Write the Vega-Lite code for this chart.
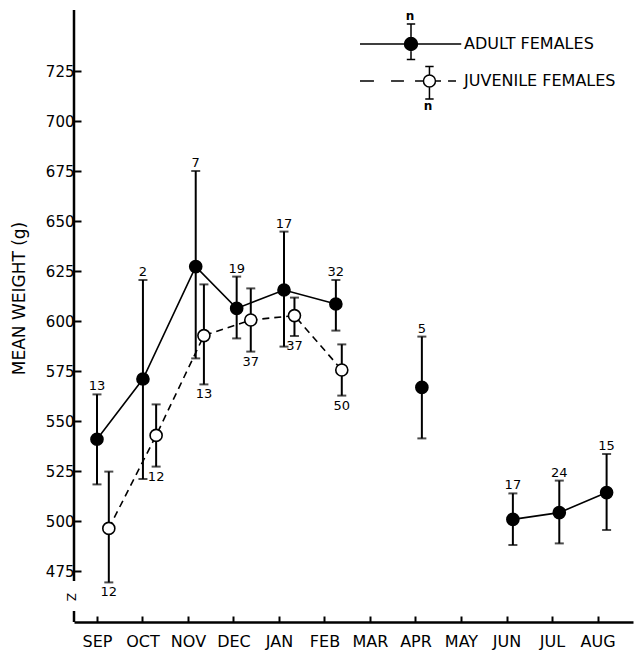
{
  "$schema": "https://vega.github.io/schema/vega-lite/v6.json",
  "width": 559,
  "height": 612,
  "autosize": {"type": "none"},
  "padding": {"left": 74, "top": 10, "right": 1, "bottom": 28},
  "config": {"font": "DejaVu Sans", "view": {"stroke": null}, "axis": {"grid": false}},
  "data": {
    "values": [
      {"series": "ADULT FEMALES", "grp": "A1", "month": "SEP", "x": 0.0, "mean": 540.9, "lo": 518.3, "hi": 563.3, "n": "13"},
      {"series": "ADULT FEMALES", "grp": "A1", "month": "OCT", "x": 1.01, "mean": 571.0, "lo": 521.0, "hi": 620.5, "n": "2"},
      {"series": "ADULT FEMALES", "grp": "A1", "month": "NOV", "x": 2.17, "mean": 627.2, "lo": 581.3, "hi": 675.0, "n": "7"},
      {"series": "ADULT FEMALES", "grp": "A1", "month": "DEC", "x": 3.07, "mean": 606.3, "lo": 591.3, "hi": 622.2, "n": "19"},
      {"series": "ADULT FEMALES", "grp": "A1", "month": "JAN", "x": 4.11, "mean": 615.5, "lo": 587.2, "hi": 644.7, "n": "17"},
      {"series": "ADULT FEMALES", "grp": "A1", "month": "FEB", "x": 5.25, "mean": 608.5, "lo": 595.2, "hi": 620.5, "n": "32"},
      {"series": "ADULT FEMALES", "grp": "A2", "month": "APR", "x": 7.14, "mean": 566.8, "lo": 541.3, "hi": 592.2, "n": "5"},
      {"series": "ADULT FEMALES", "grp": "A3", "month": "JUN", "x": 9.14, "mean": 500.8, "lo": 488.0, "hi": 513.8, "n": "17"},
      {"series": "ADULT FEMALES", "grp": "A3", "month": "JUL", "x": 10.16, "mean": 504.2, "lo": 488.8, "hi": 520.2, "n": "24"},
      {"series": "ADULT FEMALES", "grp": "A3", "month": "AUG", "x": 11.2, "mean": 514.2, "lo": 495.5, "hi": 533.5, "n": "15"},
      {"series": "JUVENILE FEMALES", "grp": "J1", "month": "SEP", "x": 0.26, "mean": 496.3, "lo": 469.3, "hi": 524.7, "n": "12"},
      {"series": "JUVENILE FEMALES", "grp": "J1", "month": "OCT", "x": 1.3, "mean": 542.8, "lo": 527.2, "hi": 558.3, "n": "12"},
      {"series": "JUVENILE FEMALES", "grp": "J1", "month": "NOV", "x": 2.35, "mean": 592.7, "lo": 568.3, "hi": 618.3, "n": "13"},
      {"series": "JUVENILE FEMALES", "grp": "J1", "month": "DEC", "x": 3.38, "mean": 600.5, "lo": 584.7, "hi": 616.3, "n": "37"},
      {"series": "JUVENILE FEMALES", "grp": "J1", "month": "JAN", "x": 4.34, "mean": 602.7, "lo": 592.5, "hi": 611.7, "n": "37"},
      {"series": "JUVENILE FEMALES", "grp": "J1", "month": "FEB", "x": 5.38, "mean": 575.5, "lo": 562.7, "hi": 588.3, "n": "50"}
    ]
  },
  "layer": [
    {
      "transform": [{"filter": "datum.series === 'ADULT FEMALES'"}],
      "mark": {"type": "line", "strokeWidth": 1.6, "color": "black"},
      "encoding": {
        "x": {
          "field": "x",
          "type": "quantitative",
          "scale": {"domain": [-0.505, 11.78], "nice": false, "zero": false},
          "axis": {
            "title": null,
            "values": [0, 1, 2, 3, 4, 5, 6, 7, 8, 9, 10, 11],
            "labelExpr": "['SEP','OCT','NOV','DEC','JAN','FEB','MAR','APR','MAY','JUN','JUL','AUG'][datum.value]",
            "domainColor": "black",
            "domainWidth": 2.5,
            "tickSize": -6,
            "tickWidth": 2,
            "tickColor": "black",
            "labelFontSize": 16,
            "labelColor": "black",
            "labelPadding": 17,
            "labelOverlap": false,
            "labelFlush": false
          }
        },
        "y": {
          "field": "mean",
          "type": "quantitative",
          "scale": {"domain": [449.5, 755.5], "nice": false, "zero": false},
          "axis": {
            "title": "MEAN WEIGHT (g)",
            "domain": false,
            "values": [475, 500, 525, 550, 575, 600, 625, 650, 675, 700, 725],
            "tickSize": -7,
            "tickWidth": 2,
            "tickColor": "black",
            "labelFontSize": 15,
            "labelColor": "black",
            "labelPadding": 7,
            "titleFontSize": 17,
            "titleFontWeight": "normal",
            "titleColor": "black",
            "titleX": -55,
            "titleY": 288,
            "titleBaseline": "middle",
            "titleAlign": "center"
          }
        },
        "detail": {"field": "grp"}
      }
    },
    {
      "transform": [{"filter": "datum.series === 'JUVENILE FEMALES'"}],
      "mark": {"type": "line", "strokeWidth": 1.6, "color": "black", "strokeDash": [7, 5]},
      "encoding": {
        "x": {"field": "x", "type": "quantitative"},
        "y": {"field": "mean", "type": "quantitative"}
      }
    },
    {
      "mark": {"type": "rule", "strokeWidth": 2, "color": "black"},
      "encoding": {
        "x": {"field": "x", "type": "quantitative"},
        "y": {"field": "lo", "type": "quantitative"},
        "y2": {"field": "hi"}
      }
    },
    {
      "mark": {"type": "tick", "orient": "horizontal", "size": 9, "thickness": 2, "color": "black"},
      "encoding": {
        "x": {"field": "x", "type": "quantitative"},
        "y": {"field": "lo", "type": "quantitative"}
      }
    },
    {
      "mark": {"type": "tick", "orient": "horizontal", "size": 9, "thickness": 2, "color": "black"},
      "encoding": {
        "x": {"field": "x", "type": "quantitative"},
        "y": {"field": "hi", "type": "quantitative"}
      }
    },
    {
      "transform": [{"filter": "datum.series === 'ADULT FEMALES'"}],
      "mark": {"type": "point", "filled": true, "shape": "circle", "size": 145, "fill": "black", "stroke": "black", "strokeWidth": 1.6, "opacity": 1},
      "encoding": {
        "x": {"field": "x", "type": "quantitative"},
        "y": {"field": "mean", "type": "quantitative"}
      }
    },
    {
      "transform": [{"filter": "datum.series === 'JUVENILE FEMALES'"}],
      "mark": {"type": "point", "filled": true, "shape": "circle", "size": 145, "fill": "white", "stroke": "black", "strokeWidth": 1.6, "opacity": 1},
      "encoding": {
        "x": {"field": "x", "type": "quantitative"},
        "y": {"field": "mean", "type": "quantitative"}
      }
    },
    {
      "mark": {"type": "point", "filled": true, "size": 900, "opacity": 0, "stroke": "black", "strokeWidth": 1.8},
      "encoding": {
        "x": {"field": "x", "type": "quantitative"},
        "y": {"field": "mean", "type": "quantitative"},
        "fill": {
          "field": "series",
          "type": "nominal",
          "scale": {"domain": ["ADULT FEMALES", "JUVENILE FEMALES"], "range": ["black", "white"]},
          "legend": {
            "title": null,
            "orient": "none",
            "legendX": 321,
            "legendY": 18,
            "padding": 0,
            "symbolSize": 900,
            "symbolOpacity": 1,
            "labelFontSize": 16,
            "labelColor": "black",
            "labelOffset": 37,
            "labelLimit": 300,
            "rowPadding": 0,
            "encode": {"symbols": {"update": {"opacity": {"value": 1}}}}
          }
        },
        "shape": {
          "field": "series",
          "type": "nominal",
          "scale": {
            "domain": ["ADULT FEMALES", "JUVENILE FEMALES"],
            "range": [
              "M-3.4,0H3.35M0,-1.33V1.03M-0.28,-1.33H0.28M-0.28,1.03H0.28M0.43,0C0.43,0.2375,0.2375,0.43,0,0.43C-0.2375,0.43,-0.43,0.2375,-0.43,0C-0.43,-0.2375,-0.2375,-0.43,0,-0.43C0.2375,-0.43,0.43,-0.2375,0.43,0Z",
              "M-3.4,0H-2.47M-1.33,0H-0.47M0.27,0H0.83M1.63,0H2.0M2.47,0H3.0M1.23,-0.97V-0.4M1.23,0.4V1.2M0.95,-0.97H1.51M0.95,1.2H1.51M1.63,0C1.63,0.221,1.451,0.4,1.23,0.4C1.009,0.4,0.83,0.221,0.83,0C0.83,-0.221,1.009,-0.4,1.23,-0.4C1.451,-0.4,1.63,-0.221,1.63,0Z"
            ]
          },
          "legend": {
            "title": null,
            "orient": "none",
            "legendX": 321,
            "legendY": 18,
            "padding": 0,
            "symbolSize": 900,
            "symbolOpacity": 1,
            "labelFontSize": 16,
            "labelColor": "black",
            "labelOffset": 37,
            "labelLimit": 300,
            "rowPadding": 0,
            "encode": {"symbols": {"update": {"opacity": {"value": 1}}}}
          }
        }
      }
    },
    {
      "transform": [{"filter": "datum.series === 'ADULT FEMALES'"}],
      "mark": {"type": "text", "fontSize": 13, "baseline": "alphabetic", "dy": -4, "color": "black"},
      "encoding": {
        "x": {"field": "x", "type": "quantitative"},
        "y": {"field": "hi", "type": "quantitative"},
        "text": {"field": "n"}
      }
    },
    {
      "transform": [{"filter": "datum.series === 'JUVENILE FEMALES'"}],
      "mark": {"type": "text", "fontSize": 13, "baseline": "top", "dy": 4, "color": "black"},
      "encoding": {
        "x": {"field": "x", "type": "quantitative"},
        "y": {"field": "lo", "type": "quantitative"},
        "text": {"field": "n"}
      }
    },
    {
      "transform": [{"aggregate": [{"op": "count", "as": "c"}]}],
      "mark": {"type": "rule", "strokeWidth": 2.5, "color": "black"},
      "encoding": {"x": {"datum": -0.505}, "y": {"datum": 470}, "y2": {"datum": 755.5}}
    },
    {
      "transform": [{"aggregate": [{"op": "count", "as": "c"}]}],
      "mark": {"type": "rule", "strokeWidth": 2.5, "color": "black"},
      "encoding": {"x": {"datum": -0.505}, "y": {"datum": 449.5}, "y2": {"datum": 455}}
    },
    {
      "transform": [{"aggregate": [{"op": "count", "as": "c"}]}],
      "mark": {"type": "text", "text": "Z", "fontSize": 12, "angle": 90, "color": "black", "baseline": "middle", "align": "center"},
      "encoding": {"x": {"datum": -0.56}, "y": {"datum": 462}}
    },
    {
      "transform": [{"aggregate": [{"op": "count", "as": "c"}]}],
      "mark": {"type": "text", "text": "n", "fontSize": 12, "fontWeight": "bold", "color": "black", "baseline": "middle", "align": "center"},
      "encoding": {"x": {"datum": 6.879}, "y": {"datum": 752.5}}
    },
    {
      "transform": [{"aggregate": [{"op": "count", "as": "c"}]}],
      "mark": {"type": "text", "text": "n", "fontSize": 12, "fontWeight": "bold", "color": "black", "baseline": "middle", "align": "center"},
      "encoding": {"x": {"datum": 7.275}, "y": {"datum": 707.5}}
    }
  ]
}
